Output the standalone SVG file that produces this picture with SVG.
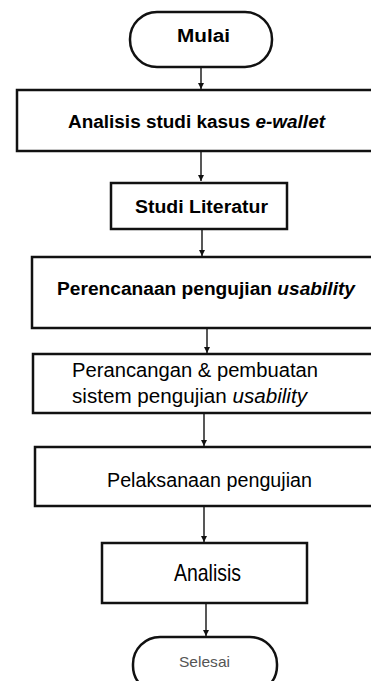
<svg xmlns="http://www.w3.org/2000/svg" width="371" height="681" viewBox="0 0 371 681">
<defs>
<style>
.box{fill:#fff;stroke:#111;stroke-width:2.5}
.edge{stroke:#111;stroke-width:1.4;fill:none;marker-end:url(#ah)}
.t{font-family:"Liberation Sans",Arial,sans-serif;fill:#000}
.b{font-weight:bold}
</style>
<marker id="ah" viewBox="0 0 10 10" refX="10" refY="5" markerWidth="6" markerHeight="6" orient="auto" markerUnits="userSpaceOnUse">
<path d="M0,0 L10,5 L0,10 z" fill="#111"/>
</marker>
</defs>
<rect width="371" height="681" fill="#fff"/>
<g id="edges">
<line class="edge" x1="201" y1="68" x2="201" y2="89"/>
<line class="edge" x1="201" y1="152" x2="201" y2="181"/>
<line class="edge" x1="202" y1="230" x2="202" y2="256"/>
<line class="edge" x1="207" y1="329" x2="207" y2="353"/>
<line class="edge" x1="204" y1="414" x2="204" y2="446"/>
<line class="edge" x1="204" y1="507" x2="204" y2="542"/>
<line class="edge" x1="206" y1="604" x2="206" y2="636"/>
</g>
<g id="mulai">
<rect class="box" x="130" y="12" width="142" height="55" rx="27" ry="27"/>
<text class="t b" x="177" y="42" font-size="18" textLength="53" lengthAdjust="spacingAndGlyphs">Mulai</text>
</g>
<g id="analisis-studi">
<rect class="box" x="17" y="90" width="370" height="61"/>
<text class="t b" x="68" y="128" font-size="18" textLength="257" lengthAdjust="spacingAndGlyphs">Analisis studi kasus <tspan font-style="italic">e-wallet</tspan></text>
</g>
<g id="studi-literatur">
<rect class="box" x="111" y="183" width="176" height="46"/>
<text class="t b" x="135" y="213" font-size="18" textLength="133" lengthAdjust="spacingAndGlyphs">Studi Literatur</text>
</g>
<g id="perencanaan">
<rect class="box" x="32" y="257" width="355" height="71"/>
<text class="t b" x="57" y="295" font-size="18" textLength="298" lengthAdjust="spacingAndGlyphs">Perencanaan pengujian <tspan font-style="italic">usability</tspan></text>
</g>
<g id="perancangan">
<rect class="box" x="33" y="354" width="354" height="59"/>
<text class="t" x="72" y="377" font-size="20" textLength="246" lengthAdjust="spacingAndGlyphs">Perancangan &amp; pembuatan</text>
<text class="t" x="72" y="403" font-size="20" textLength="235" lengthAdjust="spacingAndGlyphs">sistem pengujian <tspan font-style="italic">usability</tspan></text>
</g>
<g id="pelaksanaan">
<rect class="box" x="35" y="447" width="352" height="59"/>
<text class="t" x="107" y="487" font-size="20" textLength="205" lengthAdjust="spacingAndGlyphs">Pelaksanaan pengujian</text>
</g>
<g id="analisis">
<rect class="box" x="102" y="543" width="205" height="60"/>
<text class="t" x="174" y="581" font-size="24" textLength="67" lengthAdjust="spacingAndGlyphs">Analisis</text>
</g>
<g id="selesai">
<rect class="box" x="133" y="637" width="144" height="56" rx="27" ry="27"/>
<text class="t" x="179" y="667" font-size="15" style="fill:#555" textLength="51" lengthAdjust="spacingAndGlyphs">Selesai</text>
</g>
</svg>
